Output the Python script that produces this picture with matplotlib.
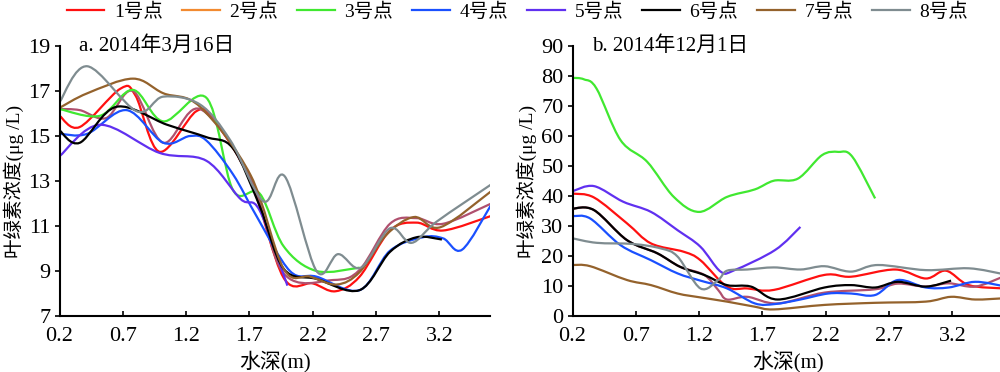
"""Chlorophyll concentration vs water depth, two survey dates."""

import numpy as np
import matplotlib.pyplot as plt
from matplotlib.lines import Line2D
from matplotlib.patches import PathPatch
from matplotlib.path import Path

plt.rcParams["font.family"] = ["Liberation Serif", "Noto Sans CJK SC"]
plt.rcParams["font.size"] = 14

SITES = ["1号点", "2号点", "3号点", "4号点", "5号点", "6号点", "7号点", "8号点"]

# a. 2014-03-16 : (depth, value) per site
A_DEPTH = [
    [0.2, 0.36, 0.68, 0.8, 0.99, 1.28, 1.42, 1.71, 1.97, 2.2, 2.38, 2.57, 2.81, 3.02, 3.23, 3.61],
    [0.2, 0.36, 0.57, 0.78, 1.02, 1.31, 1.71, 1.97, 2.36, 2.57, 2.81, 3.02, 3.23, 3.61],
    [0.2, 0.52, 0.78, 1.02, 1.36, 1.57, 1.78, 1.97, 2.23, 2.57],
    [0.2, 0.42, 0.73, 1.02, 1.23, 1.36, 1.57, 1.76, 2.02, 2.23, 2.57, 2.81, 3.07, 3.23, 3.38, 3.61],
    [0.2, 0.52, 0.99, 1.36, 1.63, 1.78, 2.0],
    [0.2, 0.36, 0.65, 1.05, 1.36, 1.57, 1.78, 1.97, 2.23, 2.57, 2.81, 3.02, 3.22],
    [0.2, 0.42, 0.78, 1.02, 1.31, 1.71, 1.97, 2.18, 2.39, 2.57, 2.78, 3.0, 3.21, 3.61],
    [0.2, 0.42, 0.81, 1.02, 1.31, 1.55, 1.81, 1.98, 2.23, 2.4, 2.58, 2.81, 2.98, 3.18, 3.61],
]
A_VALUE = [
    [15.9, 15.4, 17.1, 16.8, 14.3, 16.1, 15.7, 13.0, 8.7, 8.45, 8.1, 8.75, 10.8, 11.15, 10.8, 11.45],
    [16.2, 16.15, 15.8, 17.0, 14.7, 16.2, 13.1, 8.9, 8.6, 9.05, 11.1, 11.35, 11.1, 12.0],
    [16.2, 15.9, 17.05, 15.65, 16.7, 12.6, 12.45, 10.1, 9.0, 9.15],
    [15.1, 15.1, 16.15, 14.7, 15.0, 14.8, 13.3, 11.4, 9.0, 8.75, 8.15, 9.9, 10.5, 10.45, 9.95, 11.95],
    [14.1, 15.5, 14.25, 13.9, 12.2, 11.7, 8.35],
    [15.25, 14.7, 16.3, 15.5, 14.95, 14.45, 11.9, 9.1, 8.65, 8.15, 9.85, 10.5, 10.4],
    [16.25, 16.9, 17.55, 16.9, 16.3, 13.25, 9.1, 8.75, 8.4, 8.95, 10.6, 11.4, 10.95, 12.55],
    [16.5, 18.1, 16.1, 16.75, 16.4, 14.8, 12.1, 13.2, 9.0, 9.75, 9.15, 10.9, 10.25, 11.2, 12.85],
]

# b. 2014-12-01
B_DEPTH = [
    [0.2, 0.37, 0.63, 0.82, 1.08, 1.21, 1.42, 1.58, 1.79, 2.19, 2.4, 2.75, 2.99, 3.15, 3.33, 3.6],
    [0.2, 0.37, 0.63, 0.87, 1.05, 1.24, 1.35, 1.42, 1.58, 1.82, 2.19, 2.59, 2.77, 2.99, 3.17, 3.38, 3.6],
    [0.2, 0.29, 0.39, 0.58, 0.79, 1.0, 1.2, 1.42, 1.64, 1.79, 1.98, 2.17, 2.3, 2.41, 2.59],
    [0.2, 0.34, 0.58, 0.82, 1.03, 1.21, 1.42, 1.64, 1.8, 2.0, 2.22, 2.4, 2.59, 2.77, 2.99, 3.17, 3.38, 3.6],
    [0.2, 0.37, 0.6, 0.82, 1.03, 1.21, 1.37, 1.48, 1.8, 2.0],
    [0.2, 0.37, 0.63, 0.87, 1.05, 1.24, 1.42, 1.61, 1.82, 2.19, 2.4, 2.59, 2.77, 2.99, 3.19],
    [0.2, 0.34, 0.63, 0.82, 1.03, 1.21, 1.42, 1.64, 1.79, 2.19, 2.59, 2.99, 3.19, 3.38, 3.6],
    [0.2, 0.39, 0.68, 0.9, 1.03, 1.21, 1.35, 1.42, 1.58, 1.79, 2.0, 2.19, 2.4, 2.61, 2.99, 3.33, 3.6],
]
B_VALUE = [
    [40.8, 39.5, 30.9, 24.2, 21.4, 18.6, 9.8, 9.2, 8.7, 13.7, 13.1, 15.5, 12.5, 15.1, 10.3, 9.2],
    [35.8, 35.3, 25.3, 20.9, 16.4, 13.7, 8.7, 5.5, 6.4, 4.2, 7.8, 8.9, 10.8, 9.8, 10.9, 9.8, 13.1],
    [79.4, 78.9, 75.8, 58.6, 51.4, 39.7, 34.7, 39.7, 42.2, 45.1, 45.8, 53.6, 54.7, 53.1, 39.2],
    [33.3, 32.5, 23.6, 18.6, 14.2, 11.8, 9.2, 4.2, 4.0, 5.5, 7.5, 7.5, 7.0, 12.0, 9.5, 9.5, 11.4, 10.0],
    [41.6, 43.3, 38.1, 34.7, 28.6, 23.1, 14.8, 15.3, 22.0, 29.7],
    [35.8, 35.3, 25.3, 20.9, 16.4, 13.7, 10.3, 9.8, 5.5, 9.5, 10.3, 9.5, 11.4, 9.8, 11.8],
    [17.0, 16.6, 12.0, 10.3, 7.5, 6.2, 4.8, 3.1, 2.2, 3.7, 4.4, 4.8, 6.4, 5.5, 5.9],
    [25.9, 24.4, 24.0, 22.5, 19.8, 9.2, 12.0, 15.1, 15.5, 16.2, 15.5, 16.6, 14.8, 17.0, 15.3, 15.9, 14.0],
]

LINE_COLORS = ["#ff1010", "#b0506e", "#40e830", "#1a50ff", "#6030f0", "#000000", "#94622c", "#7f8c90"]
LEGEND_COLORS = ["#ff1010", "#f28a30", "#40e830", "#1a50ff", "#6030f0", "#000000", "#94622c", "#7f8c90"]


def smooth_path(x, y):
    """Catmull-Rom style Bezier path through the points (like Excel smoothing)."""
    pts = np.column_stack([x, y]).astype(float)
    ext = np.vstack([pts[0], pts, pts[-1]])
    verts = [pts[0]]
    codes = [Path.MOVETO]
    for i in range(1, len(ext) - 2):
        p0, p1, p2, p3 = ext[i - 1], ext[i], ext[i + 1], ext[i + 2]
        verts += [p1 + (p2 - p0) / 6, p2 - (p3 - p1) / 6, p2]
        codes += [Path.CURVE4] * 3
    return Path(verts, codes)


def draw_panel(ax, depths, values, ylim, yticks, title):
    for d, v, c in zip(depths, values, LINE_COLORS):
        ax.add_patch(PathPatch(smooth_path(d, v), fill=False, ec=c, lw=1.6))
    ax.set_xlim(0.2, 3.6)
    ax.set_ylim(*ylim)
    ax.set_xticks([0.2, 0.7, 1.2, 1.7, 2.2, 2.7, 3.2])
    ax.set_xticklabels(["0.2", "0.7", "1.2", "1.7", "2.2", "2.7", "3.2"])
    ax.set_yticks(yticks)
    ax.tick_params(axis="x", direction="in", length=3.5, width=1.2, pad=8, labelsize=16)
    ax.tick_params(axis="y", direction="out", length=3.5, width=1.2, pad=3, labelsize=16)
    for side in ("top", "right"):
        ax.spines[side].set_visible(False)
    for side in ("left", "bottom"):
        ax.spines[side].set_linewidth(1.5)
    ax.set_xlabel("水深(m)", fontsize=15, labelpad=3)
    ax.set_ylabel("叶绿素浓度(μg /L)", labelpad=3)
    ax.text(0.045, 1.0, title, transform=ax.transAxes, ha="left", va="center", fontsize=15)


fig = plt.figure(figsize=(10, 3.72), dpi=100)
ax_a = fig.add_axes([0.0595, 0.1505, 0.4305, 0.7258])
ax_b = fig.add_axes([0.5725, 0.1505, 0.4305, 0.7258])

draw_panel(ax_a, A_DEPTH, A_VALUE, (7, 19), range(7, 20, 2), "a. 2014年3月16日")
draw_panel(ax_b, B_DEPTH, B_VALUE, (0, 90), range(0, 91, 10), "b. 2014年12月1日")

handles = [Line2D([], [], color=c, lw=1.6) for c in LEGEND_COLORS]
fig.legend(handles, SITES, loc="upper center", bbox_to_anchor=(0.5175, 1.04), ncol=8,
           frameon=False, handlelength=1.95, handletextpad=0.5, columnspacing=0.96)

fig.savefig("out.png", dpi=100)
